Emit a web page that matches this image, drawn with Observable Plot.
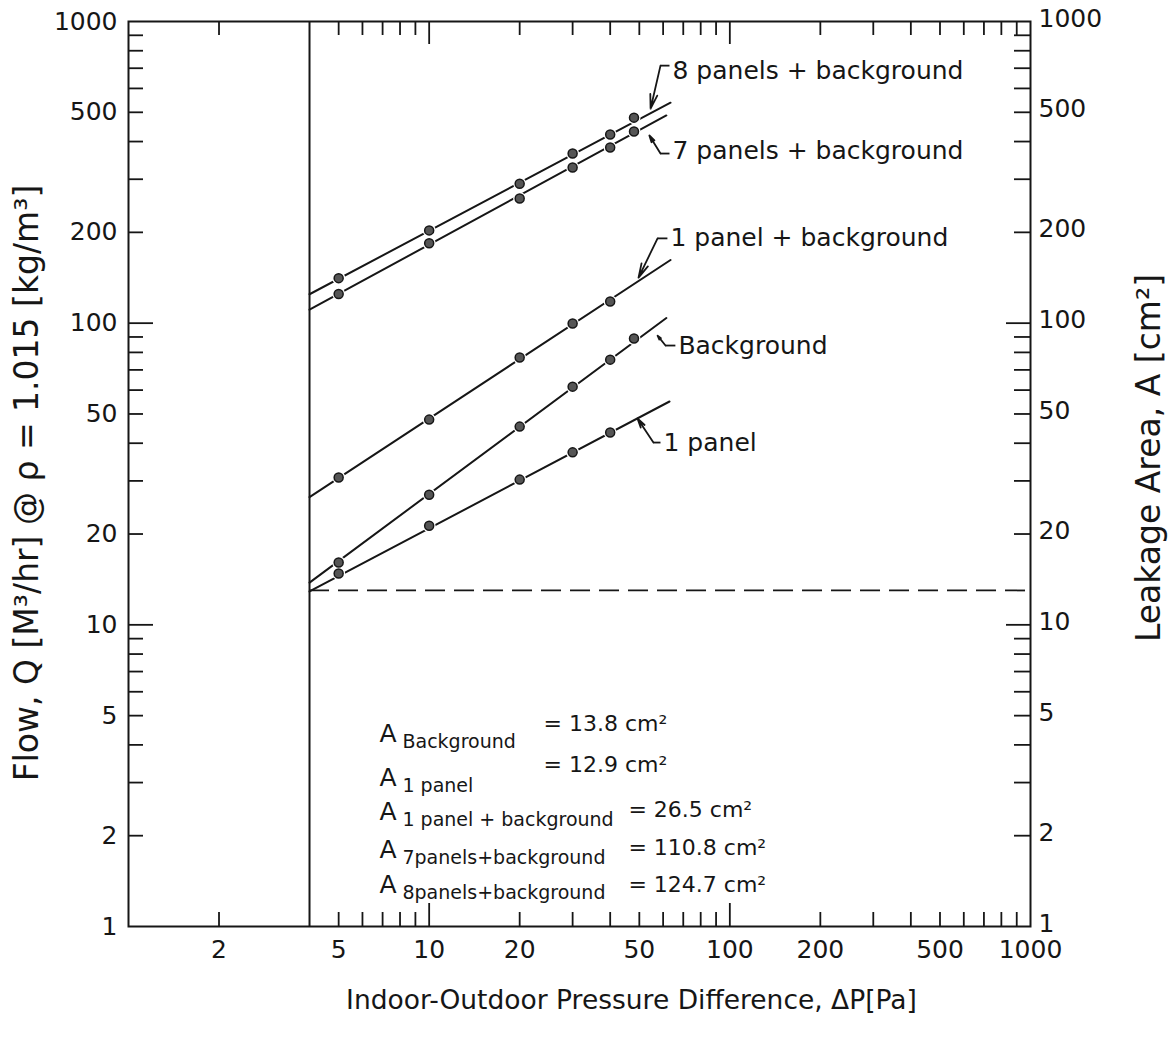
<!DOCTYPE html>
<html>
<head>
<meta charset="utf-8">
<script src="https://cdn.jsdelivr.net/npm/d3@7"></script>
<script src="https://cdn.jsdelivr.net/npm/@observablehq/plot@0.6"></script>
<style>
  html, body { margin: 0; padding: 0; background: #fff; }
  #chart svg { display: block; }
</style>
</head>
<body>
<div id="chart"></div>
<script>
// ---------------- data ----------------
const seriesNames = ["8 panels + background", "7 panels + background", "1 panel + background", "Background", "1 panel"];
const referencePressure = 4;                       // Pa, where leakage area is defined
const leakageArea = [124.7, 110.8, 26.5, 13.8, 12.9]; // fitted line value at 4 Pa
const lineEndPressure = [63.5, 61.5, 63.5, 61.5, 63];
const lineEndFlow = [538, 488, 162, 104, 55];

const pressureSix = [5, 10, 20, 30, 40, 48];
const pressureFive = [5, 10, 20, 30, 40];
const flow8panels = [141, 203, 290, 365, 422, 480];
const flow7panels = [125, 184, 259, 328, 382, 432];
const flow1panelBg = [30.8, 47.9, 76.9, 99.7, 118];
const flowBackground = [16.1, 27.0, 45.4, 61.6, 75.7, 88.9];
const flow1panel = [14.8, 21.3, 30.3, 37.3, 43.4];

const dashedLevel = 13.0;

const xTickLabels = [2, 5, 10, 20, 50, 100, 200, 500, 1000];
const yTickLabels = [1, 2, 5, 10, 20, 50, 100, 200, 500, 1000];
const xMinorTicks = [2, 5, 6, 7, 8, 9, 20, 30, 40, 50, 60, 70, 80, 90, 200, 300, 400, 500, 600, 700, 800, 900];
const xMajorTicks = [10, 100];
const yMinorTicks = [2, 3, 4, 5, 6, 7, 8, 9, 20, 30, 40, 50, 60, 70, 80, 90, 200, 300, 400, 500, 600, 700, 800, 900];
const yMajorTicks = [10, 100];

// curve labels (data-space anchor of the leader lines)
const labelPressure = [63.0, 63.0, 62.0, 65.9, 58.8];
const labelFlow = [687, 371, 191, 84.3, 40.2];
const cornerPressure = [58.8, 58.8, 57.5, 61.1, 55.7];
const cornerFlow = [714, 365, 191, 84.3, 40.2];
const tipPressure = [54.5, 54.0, 49.7, 57.5, 49.3];
const tipFlow = [514, 419, 141.6, 90.9, 48.3];

// leakage-area table
const areaSubscripts = ["Background", "1 panel", "1 panel + background", "7panels+background", "8panels+background"];
const areaValues = ["13.8", "12.9", "26.5", "110.8", "124.7"];
const rowSymbolFlow = [4.10, 2.93, 2.25, 1.69, 1.29];
const rowValueFlow = [4.46, 3.24, 2.30, 1.72, 1.30];
const rowEqualsPressure = [24.0, 24.0, 46.0, 46.0, 46.0];
const symbolPressure = 6.83;
const subscriptPressure = 8.15;

// ---------------- tables ----------------
const lineRows = seriesNames.flatMap((s, i) => [
  {series: s, p: referencePressure, q: leakageArea[i]},
  {series: s, p: lineEndPressure[i], q: lineEndFlow[i]}
]);
const pointSets = [
  [pressureSix, flow8panels],
  [pressureSix, flow7panels],
  [pressureFive, flow1panelBg],
  [pressureSix, flowBackground],
  [pressureFive, flow1panel]
];
const pointRows = pointSets.flatMap(([ps, qs], i) => ps.map((p, j) => ({series: seriesNames[i], p, q: qs[j]})));
const labelRows = seriesNames.map((s, i) => ({
  text: s, lp: labelPressure[i], lq: labelFlow[i],
  cp: cornerPressure[i], cq: cornerFlow[i], tp: tipPressure[i], tq: tipFlow[i]
}));
const areaRows = areaSubscripts.map((s, i) => ({
  sub: s, val: "= " + areaValues[i] + " cm²",
  yq: rowSymbolFlow[i], vq: rowValueFlow[i], ep: rowEqualsPressure[i]
}));

// ---------------- layout ----------------
const W = 1175, H = 1045;
const mL = 128, mR = 145, mT = 21, mB = 119;
const fw = W - mL - mR, fh = H - mT - mB;
const ink = "#161616";

const chart = Plot.plot({
  width: W, height: H,
  marginLeft: mL, marginRight: mR, marginTop: mT, marginBottom: mB,
  x: {type: "log", domain: [1, 1000]},
  y: {type: "log", domain: [1, 1000]},
  style: {fontFamily: "DejaVu Sans", fontSize: "25px", color: ink, background: "#fff"},
  marks: [
    // tick labels
    Plot.axisX(xTickLabels, {anchor: "bottom", tickSize: 0, tickPadding: 14, text: d => String(d), label: null, fontSize: 25}),
    Plot.axisY(yTickLabels, {anchor: "left", tickSize: 0, tickPadding: 11, text: d => String(d), label: null, fontSize: 25}),
    Plot.axisY(yTickLabels, {anchor: "right", tickSize: 0, tickPadding: 8, dy: -3, text: d => String(d), label: null, fontSize: 25}),
    // inward tick marks
    Plot.ruleX(xMinorTicks, {x: d => d, insetTop: fh - 14, stroke: ink, strokeWidth: 1.8}),
    Plot.ruleX(xMajorTicks, {x: d => d, insetTop: fh - 23, stroke: ink, strokeWidth: 1.8}),
    Plot.ruleX(xMinorTicks, {x: d => d, insetBottom: fh - 14, stroke: ink, strokeWidth: 1.8}),
    Plot.ruleX(xMajorTicks, {x: d => d, insetBottom: fh - 23, stroke: ink, strokeWidth: 1.8}),
    Plot.ruleY(yMinorTicks, {y: d => d, insetRight: fw - 15, stroke: ink, strokeWidth: 1.8}),
    Plot.ruleY(yMajorTicks, {y: d => d, insetRight: fw - 25, stroke: ink, strokeWidth: 1.8}),
    Plot.ruleY(yMinorTicks, {y: d => d, insetLeft: fw - 16, stroke: ink, strokeWidth: 1.8}),
    Plot.ruleY(yMajorTicks, {y: d => d, insetLeft: fw - 24, stroke: ink, strokeWidth: 1.8}),
    // frame and reference lines
    Plot.frame({stroke: ink, strokeWidth: 2}),
    Plot.ruleX([referencePressure], {stroke: ink, strokeWidth: 2}),
    Plot.ruleY([dashedLevel], {x1: referencePressure, x2: 1000, stroke: ink, strokeWidth: 1.8, strokeDasharray: "20,9"}),
    // fitted lines
    Plot.line(lineRows, {x: "p", y: "q", z: "series", stroke: ink, strokeWidth: 2}),
    // data points with gaps in the line
    Plot.dot(pointRows, {x: "p", y: "q", r: 6.5, fill: "#fff"}),
    Plot.dot(pointRows, {x: "p", y: "q", r: 4.5, fill: "#555", stroke: ink, strokeWidth: 1.5}),
    // curve labels with leaders
    Plot.link(labelRows, {x1: "cp", y1: "cq", x2: "lp", y2: "cq", stroke: ink, strokeWidth: 1.8}),
    Plot.arrow(labelRows, {x1: "cp", y1: "cq", x2: "tp", y2: "tq", stroke: ink, strokeWidth: 1.8, headLength: 13, headAngle: 28}),
    Plot.text(labelRows, {x: "lp", y: "lq", text: "text", textAnchor: "start", dx: 3, fontSize: 25, fill: ink}),
    // leakage-area table
    Plot.text(areaRows, {x: () => symbolPressure, y: "yq", text: () => "A", textAnchor: "start", lineAnchor: "bottom", fontSize: 25, fill: ink}),
    Plot.text(areaRows, {x: () => subscriptPressure, y: "yq", text: "sub", textAnchor: "start", lineAnchor: "bottom", dy: 6, fontSize: 19, fill: ink}),
    Plot.text(areaRows, {x: "ep", y: "vq", text: "val", textAnchor: "start", lineAnchor: "bottom", fontSize: 22, fill: ink}),
    // axis titles
    Plot.text(["Indoor-Outdoor Pressure Difference, ΔP[Pa]"], {frameAnchor: "bottom", textAnchor: "middle", dx: 52, dy: 82, fontSize: 26.5, fill: ink}),
    Plot.text(["Flow, Q [M³/hr] @ ρ = 1.015 [kg/m³]"], {frameAnchor: "left", textAnchor: "middle", rotate: -90, dx: -101, dy: 9, fontSize: 33, fill: ink, letterSpacing: "2.5px"}),
    Plot.text(["Leakage Area, A [cm²]"], {frameAnchor: "right", textAnchor: "middle", rotate: -90, dx: 119, dy: -16, fontSize: 33, fill: ink, letterSpacing: "3px"})
  ]
});
document.getElementById("chart").appendChild(chart);
</script>
</body>
</html>
